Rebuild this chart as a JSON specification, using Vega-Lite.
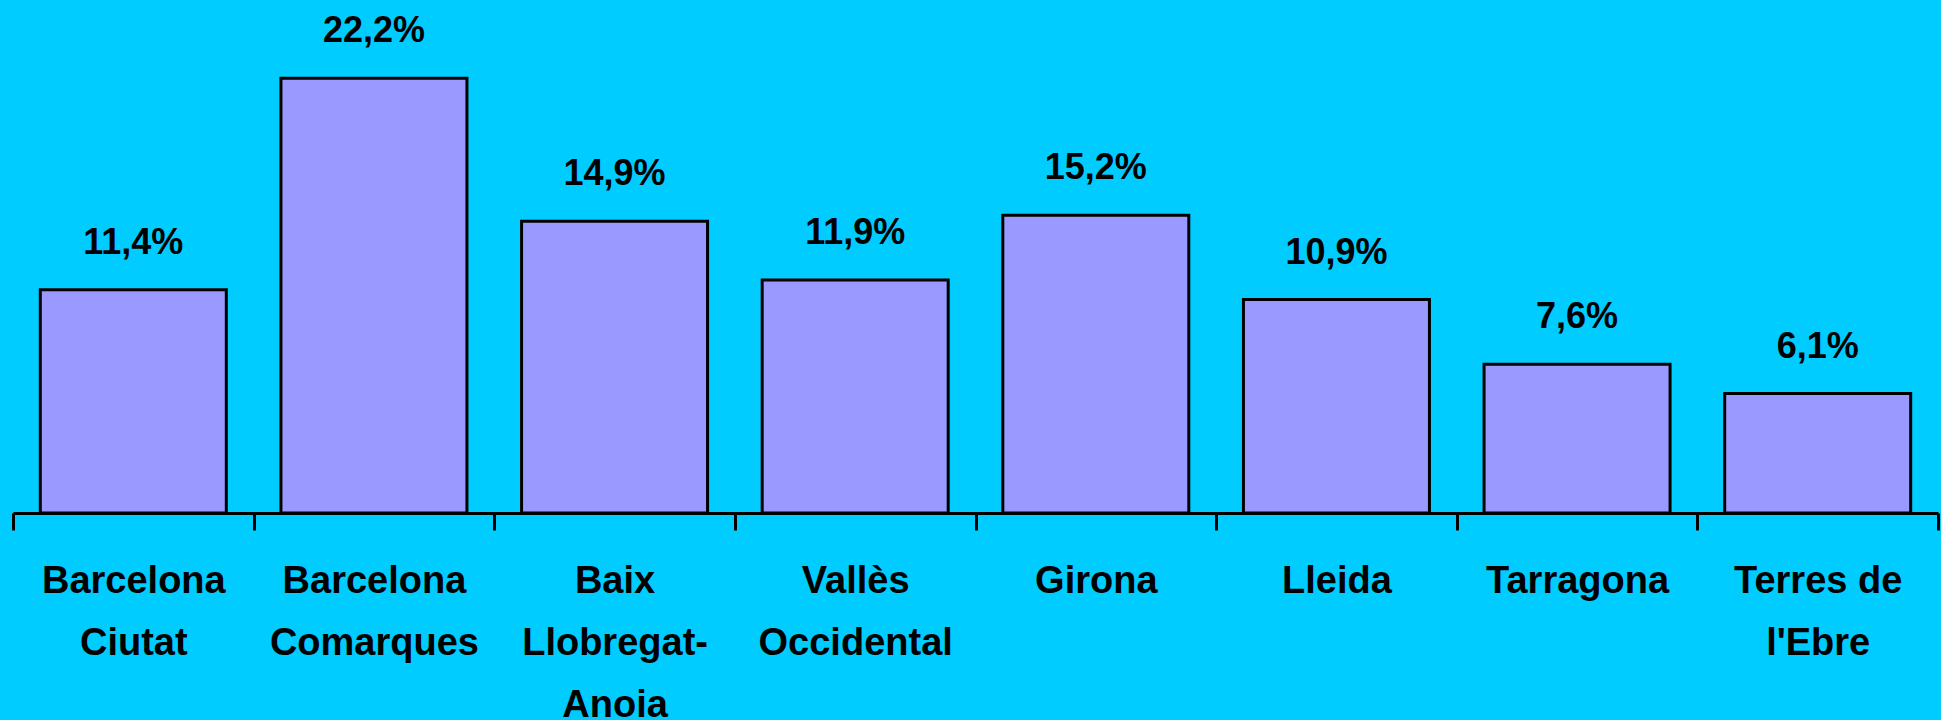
{
  "$schema": "https://vega.github.io/schema/vega-lite/v6.json",
  "width": 1925,
  "height": 470,
  "autosize": "none",
  "padding": {"left": 13, "top": 43, "right": 3, "bottom": 207},
  "background": "#00CCFF",
  "config": {
    "view": {"stroke": null},
    "locale": {"number": {"decimal": ",", "thousands": ".", "grouping": [3], "currency": ["", " €"]}}
  },
  "data": {
    "values": [
      {"zona": "Barcelona\nCiutat", "valor": 0.114},
      {"zona": "Barcelona\nComarques", "valor": 0.222},
      {"zona": "Baix\nLlobregat-\nAnoia", "valor": 0.149},
      {"zona": "Vallès\nOccidental", "valor": 0.119},
      {"zona": "Girona", "valor": 0.152},
      {"zona": "Lleida", "valor": 0.109},
      {"zona": "Tarragona", "valor": 0.076},
      {"zona": "Terres de\nl'Ebre", "valor": 0.061}
    ]
  },
  "encoding": {
    "x": {
      "field": "zona",
      "type": "nominal",
      "sort": null,
      "scale": {"paddingInner": 0, "paddingOuter": 0},
      "axis": {
        "title": null,
        "labelAngle": 0,
        "labelExpr": "split(datum.label, '\\n')",
        "labelFont": "Liberation Sans, Arial, sans-serif",
        "labelFontWeight": "bold",
        "labelFontSize": 38,
        "labelLineHeight": 62,
        "labelColor": "#000000",
        "labelPadding": 32,
        "labelBaseline": "top",
        "labelLimit": 0,
        "domainColor": "#000000",
        "domainWidth": 3,
        "tickColor": "#000000",
        "tickWidth": 3,
        "tickSize": 17,
        "tickBand": "extent"
      }
    },
    "y": {
      "field": "valor",
      "type": "quantitative",
      "scale": {"domain": [0, 0.24], "nice": false},
      "axis": null
    }
  },
  "layer": [
    {
      "mark": {"type": "bar", "width": {"band": 0.773}, "fill": "#9999FF", "stroke": "#000000", "strokeWidth": 3}
    },
    {
      "mark": {
        "type": "text",
        "font": "Liberation Sans, Arial, sans-serif",
        "fontWeight": "bold",
        "fontSize": 36,
        "baseline": "alphabetic",
        "dy": -36,
        "color": "#000000"
      },
      "encoding": {
        "text": {"field": "valor", "type": "quantitative", "format": ".1%"}
      }
    }
  ]
}
